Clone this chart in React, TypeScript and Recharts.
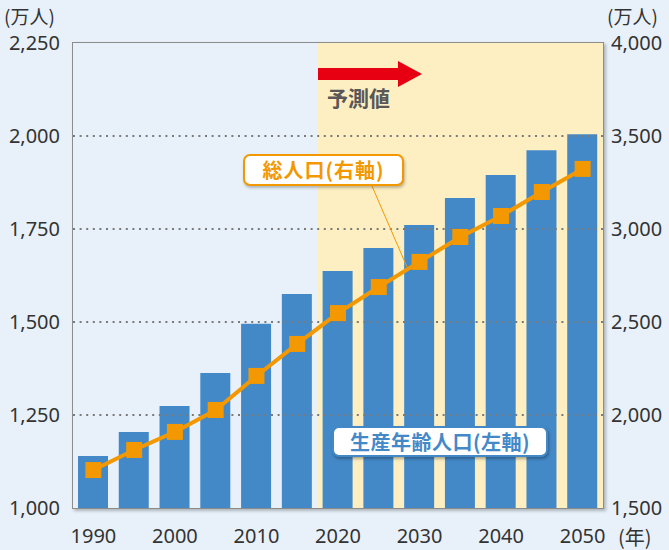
import {
    ComposedChart,
    Bar,
    Line,
    XAxis,
    YAxis,
    ReferenceArea,
    ReferenceLine,
} from 'recharts';

const years = ['1990', '1995', '2000', '2005', '2010', '2015', '2020', '2025', '2030', '2035', '2040', '2045', '2050'];
// 生産年齢人口 (左軸, 万人)
const workingAge = [1140, 1204, 1274, 1363, 1495, 1575, 1637, 1699, 1761, 1833, 1895, 1962, 2005];
// 総人口 (右軸, 万人)
const totalPop = [1704, 1812, 1909, 2027, 2210, 2382, 2548, 2688, 2823, 2957, 3070, 3199, 3323];
const leftTicks = [1000, 1250, 1500, 1750, 2000, 2250];
const rightTicks = [1500, 2000, 2500, 3000, 3500, 4000];
const gridLines = [1250, 1500, 1750, 2000];

const data = years.map((year, i) => ({ year, working: workingAge[i], total: totalPop[i] }));

const FONT = "'Noto Sans CJK JP', 'Noto Sans', sans-serif";
const NUM_FONT = "'Noto Sans', sans-serif";
const BLUE = '#4389c8';
const ORANGE = '#f39800';
const TEXT = '#333';

const fmt = (v: number) => v.toLocaleString('en-US');

const SquareDot = (props: any) => {
    const { cx, cy, index } = props;
    return <rect key={index} x={cx - 8} y={cy - 8} width={16} height={16} fill={ORANGE} />;
};

const tickStyle = { fontSize: 20, fill: TEXT, fontFamily: NUM_FONT };

export default function App() {
    return (
        <div
            style={{
                position: 'fixed',
                left: 0,
                top: 0,
                width: 669,
                height: 550,
                background: '#e8f1fa',
                fontFamily: FONT,
                overflow: 'hidden',
            }}
        >
            <ComposedChart
                width={669}
                height={550}
                data={data}
                margin={{ top: 43, right: 0, left: 0, bottom: 0 }}
            >
                <ReferenceArea yAxisId="left" fill="#ffffff" fillOpacity={1} stroke="none" />
                <ReferenceArea yAxisId="left" x1="2020" fill="#fdefc2" fillOpacity={1} stroke="none" />
                {gridLines.map((v) => (
                    <ReferenceLine
                        key={v}
                        yAxisId="left"
                        y={v}
                        stroke="#7a7a7a"
                        strokeWidth={2}
                        strokeDasharray="2 4.6"
                    />
                ))}
                <XAxis
                    dataKey="year"
                    interval={1}
                    height={42}
                    tickLine={false}
                    axisLine={false}
                    tickSize={0}
                    tickMargin={21}
                    tick={tickStyle}
                />
                <YAxis
                    yAxisId="left"
                    domain={[1000, 2250]}
                    ticks={leftTicks}
                    width={73}
                    tickLine={false}
                    axisLine={false}
                    tickSize={0}
                    tickMargin={13}
                    tickFormatter={fmt}
                    tick={tickStyle}
                />
                <YAxis
                    yAxisId="right"
                    orientation="right"
                    domain={[1500, 4000]}
                    ticks={rightTicks}
                    width={66}
                    tickLine={false}
                    axisLine={false}
                    tickSize={0}
                    tickMargin={8}
                    tickFormatter={fmt}
                    tick={tickStyle}
                />
                <Bar yAxisId="left" dataKey="working" fill={BLUE} barSize={30} isAnimationActive={false} />
                <Line
                    yAxisId="right"
                    dataKey="total"
                    stroke={ORANGE}
                    strokeWidth={4}
                    dot={SquareDot}
                    activeDot={false}
                    isAnimationActive={false}
                />
            </ComposedChart>

            {/* plot frame */}
            <div
                style={{
                    position: 'absolute',
                    left: 72,
                    top: 42,
                    width: 532,
                    height: 467,
                    boxSizing: 'border-box',
                    border: '1px solid #8c8c8c',
                    boxShadow: '2px 2px 3px rgba(0,0,0,0.25)',
                    pointerEvents: 'none',
                }}
            />

            <div style={{ position: 'absolute', left: 4, top: 6, fontSize: 19, lineHeight: '20px', color: TEXT }}>(万人)</div>
            <div style={{ position: 'absolute', left: 607, top: 6, fontSize: 19, lineHeight: '20px', color: TEXT }}>(万人)</div>
            <div style={{ position: 'absolute', left: 618, top: 526, fontSize: 20, lineHeight: '22px', color: TEXT }}>(年)</div>

            {/* annotations */}
            <svg width={669} height={550} style={{ position: 'absolute', left: 0, top: 0, pointerEvents: 'none' }}>
                <rect x={318} y={68} width={82} height={12} fill="#e60012" />
                <polygon points="398,61 422,74 398,87" fill="#e60012" />
                <line x1={372} y1={186} x2={407} y2={267} stroke={ORANGE} strokeWidth={1} />
            </svg>
            <div
                style={{
                    position: 'absolute',
                    left: 327,
                    top: 83,
                    fontSize: 21,
                    fontWeight: 700,
                    color: '#595757',
                    lineHeight: '28px',
                }}
            >
                予測値
            </div>
            <div
                style={{
                    position: 'absolute',
                    left: 243,
                    top: 154,
                    width: 161,
                    height: 32,
                    boxSizing: 'border-box',
                    border: `2.5px solid ${ORANGE}`,
                    borderRadius: 7,
                    background: '#fff',
                    boxShadow: '1px 2px 3px rgba(0,0,0,0.25)',
                    color: ORANGE,
                    fontSize: 20,
                    fontWeight: 700,
                    lineHeight: '27px',
                    letterSpacing: 1,
                    textAlign: 'center',
                }}
            >
                総人口(右軸)
            </div>
            <div
                style={{
                    position: 'absolute',
                    left: 332,
                    top: 426,
                    width: 216,
                    height: 31,
                    boxSizing: 'border-box',
                    border: `2px solid ${BLUE}`,
                    borderRadius: 7,
                    background: '#fff',
                    boxShadow: '1px 2px 3px rgba(0,0,0,0.3)',
                    color: BLUE,
                    fontSize: 20,
                    fontWeight: 700,
                    lineHeight: '27px',
                    letterSpacing: 0.5,
                    textAlign: 'center',
                }}
            >
                生産年齢人口(左軸)
            </div>
        </div>
    );
}
